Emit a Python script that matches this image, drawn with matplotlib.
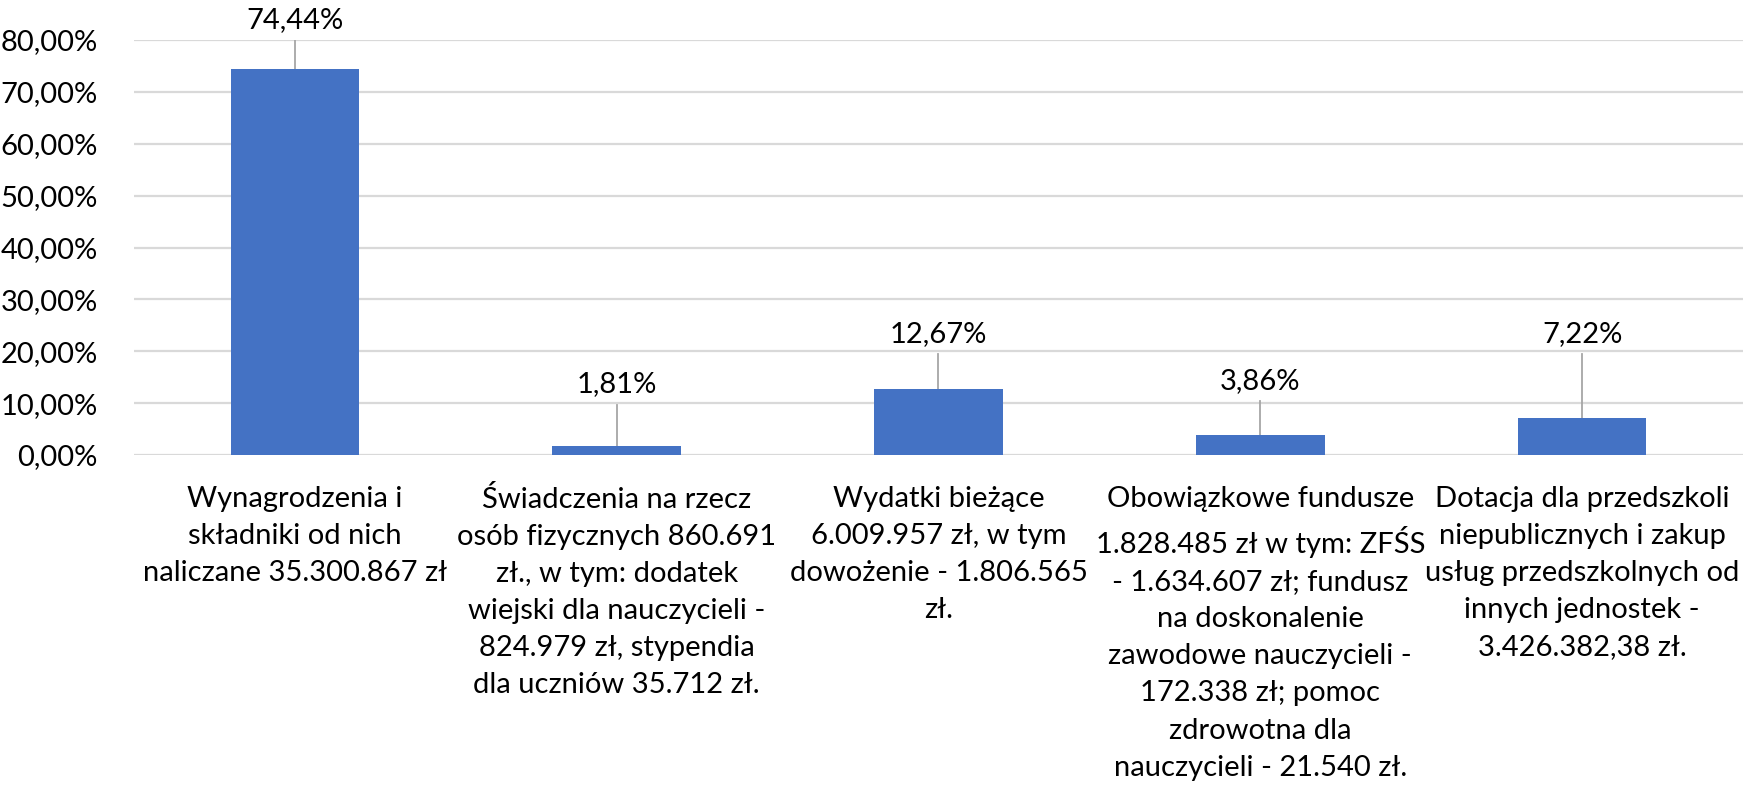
import matplotlib
matplotlib.use('Agg')
from matplotlib import pyplot as plt
from matplotlib.ticker import FuncFormatter

# data
categories = [
    "Wynagrodzenia i\nskładniki od nich\nnaliczane 35.300.867 zł",
    "Świadczenia na rzecz\nosób fizycznych 860.691\nzł., w tym: dodatek\nwiejski dla nauczycieli -\n824.979 zł, stypendia\ndla uczniów 35.712 zł.",
    "Wydatki bieżące\n6.009.957 zł, w tym\ndowożenie - 1.806.565\nzł.",
    "Obowiązkowe fundusze\n1.828.485 zł w tym: ZFŚS\n- 1.634.607 zł; fundusz\nna doskonalenie\nzawodowe nauczycieli -\n172.338 zł; pomoc\nzdrowotna dla\nnauczycieli - 21.540 zł.",
    "Dotacja dla przedszkoli\nniepublicznych i zakup\nusług przedszkolnych od\ninnych jednostek -\n3.426.382,38 zł.",
]
shares = [74.44, 1.81, 12.67, 3.86, 7.22]
# where Excel put the dragged data labels (in % units)
label_y = [83.9, 13.6, 23.4, 14.3, 23.4]

plt.rcParams['font.family'] = ['Lato', 'DejaVu Sans']

fig = plt.figure(figsize=(17.56, 7.85), dpi=100)
ax = fig.add_axes([0.0763, 0.4204, 0.9163, 0.5286])

xs = range(len(shares))
ax.bar(xs, shares, width=0.4, color='#4472C4', zorder=3)

for x, v, ly in zip(xs, shares, label_y):
    ax.plot([x, x], [v, ly - 3.9], color='#A6A6A6', lw=1.3, zorder=2)
    ax.text(x, ly, f"{v:.2f}%".replace('.', ','), ha='center', va='center',
            fontsize=21, color='black', clip_on=False)

ax.set_xlim(-0.5, len(shares) - 0.5)
ax.set_ylim(0, 80)
ax.set_yticks(range(0, 81, 10))
ax.yaxis.set_major_formatter(FuncFormatter(lambda v, p: f"{v:.2f}%".replace('.', ',')))
ax.set_xticks(list(xs))
ax.set_xticklabels(categories, fontsize=21, linespacing=1.53, va='top')
ax.tick_params(axis='x', length=0, pad=22)
ax.tick_params(axis='y', length=0, pad=26, labelsize=21)
ax.grid(axis='y', color='#D9D9D9', lw=1.6, zorder=0)
ax.set_axisbelow(True)
for s in ax.spines.values():
    s.set_visible(False)

fig.savefig('out.png', dpi=100)
